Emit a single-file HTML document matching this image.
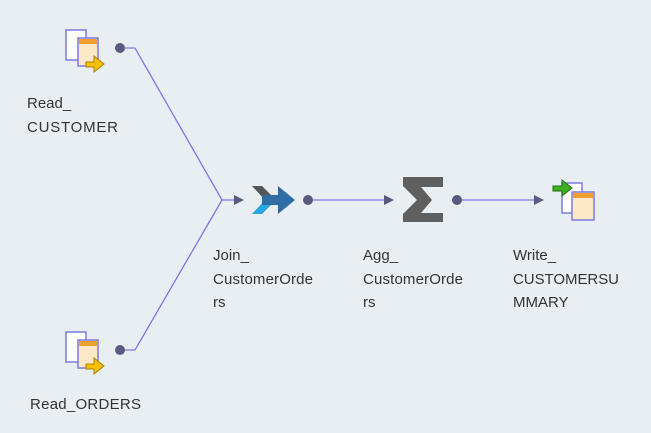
<!DOCTYPE html>
<html><head><style>
body{margin:0;background:#e9eef3;width:651px;height:433px;overflow:hidden;font-family:"Liberation Sans",sans-serif}
</style></head><body>
<svg width="651" height="433" xmlns="http://www.w3.org/2000/svg" style="position:absolute;left:0;top:0">
<rect width="651" height="433" fill="#e9eef3"/>
<g stroke="#7b78e6" stroke-width="1.3" fill="none">
<polyline points="120,48 135,48 222,200"/>
<polyline points="120,350 135,350 222,200"/>
<line x1="222" y1="200" x2="236" y2="200"/>
<line x1="308" y1="200" x2="386" y2="200"/>
<line x1="457" y1="200" x2="536" y2="200"/>
</g>
<g fill="#5a5a80">
<polygon points="234,195 244,200 234,205"/>
<polygon points="384,195 394,200 384,205"/>
<polygon points="534,195 544,200 534,205"/>
<circle cx="120" cy="48" r="5"/><circle cx="120" cy="350" r="5"/>
<circle cx="308" cy="200" r="5"/><circle cx="457" cy="200" r="5"/>
</g>
<g id="src">
<rect x="66" y="30" width="20" height="30" fill="#fff" stroke="#7a7ae0" stroke-width="1.5"/>
<rect x="78" y="38" width="20" height="28" fill="#fde9c8" stroke="#7a7ae0" stroke-width="1.5"/>
<rect x="79" y="39" width="18" height="5" fill="#f0a030"/>
<polygon points="86,62 94,62 94,56 104,64 94,72 94,67 86,67" fill="#f5c000" stroke="#b08000"/>
</g>
<use href="#src" y="302"/>
<polygon points="252,186 262,186 274,198 266,201" fill="#555"/>
<polygon points="252,214 262,214 272,204 264,201" fill="#29a8e0"/>
<polygon points="262,195 278,195 278,186 295,200 278,214 278,205 262,205" fill="#2e6da4"/>
<polygon points="403,177 443,177 443,187 421,187 432,200 421,213 443,213 443,222 403,222 403,214 417,200 403,186" fill="#5f5f5f"/>
<rect x="562" y="183" width="20" height="30" fill="#fff" stroke="#7a7ae0" stroke-width="1.5"/>
<rect x="572" y="192" width="22" height="28" fill="#fde9c8" stroke="#7a7ae0" stroke-width="1.5"/>
<rect x="573" y="193" width="20" height="5" fill="#f0a030"/>
<polygon points="553,186 562,186 562,180 572,188 562,196 562,191 553,191" fill="#3cb020" stroke="#207010"/>
<g font-size="15" fill="#333">
<text x="27" y="108">Read_</text><text x="27" y="132" textLength="91">CUSTOMER</text>
<text x="30" y="409" textLength="111">Read_ORDERS</text>
<text x="213" y="260">Join_</text><text x="213" y="284" textLength="100">CustomerOrde</text><text x="213" y="307">rs</text>
<text x="363" y="260">Agg_</text><text x="363" y="284" textLength="100">CustomerOrde</text><text x="363" y="307">rs</text>
<text x="513" y="260">Write_</text><text x="513" y="284" textLength="106">CUSTOMERSU</text><text x="513" y="307">MMARY</text>
</g>
</svg>
</body></html>
